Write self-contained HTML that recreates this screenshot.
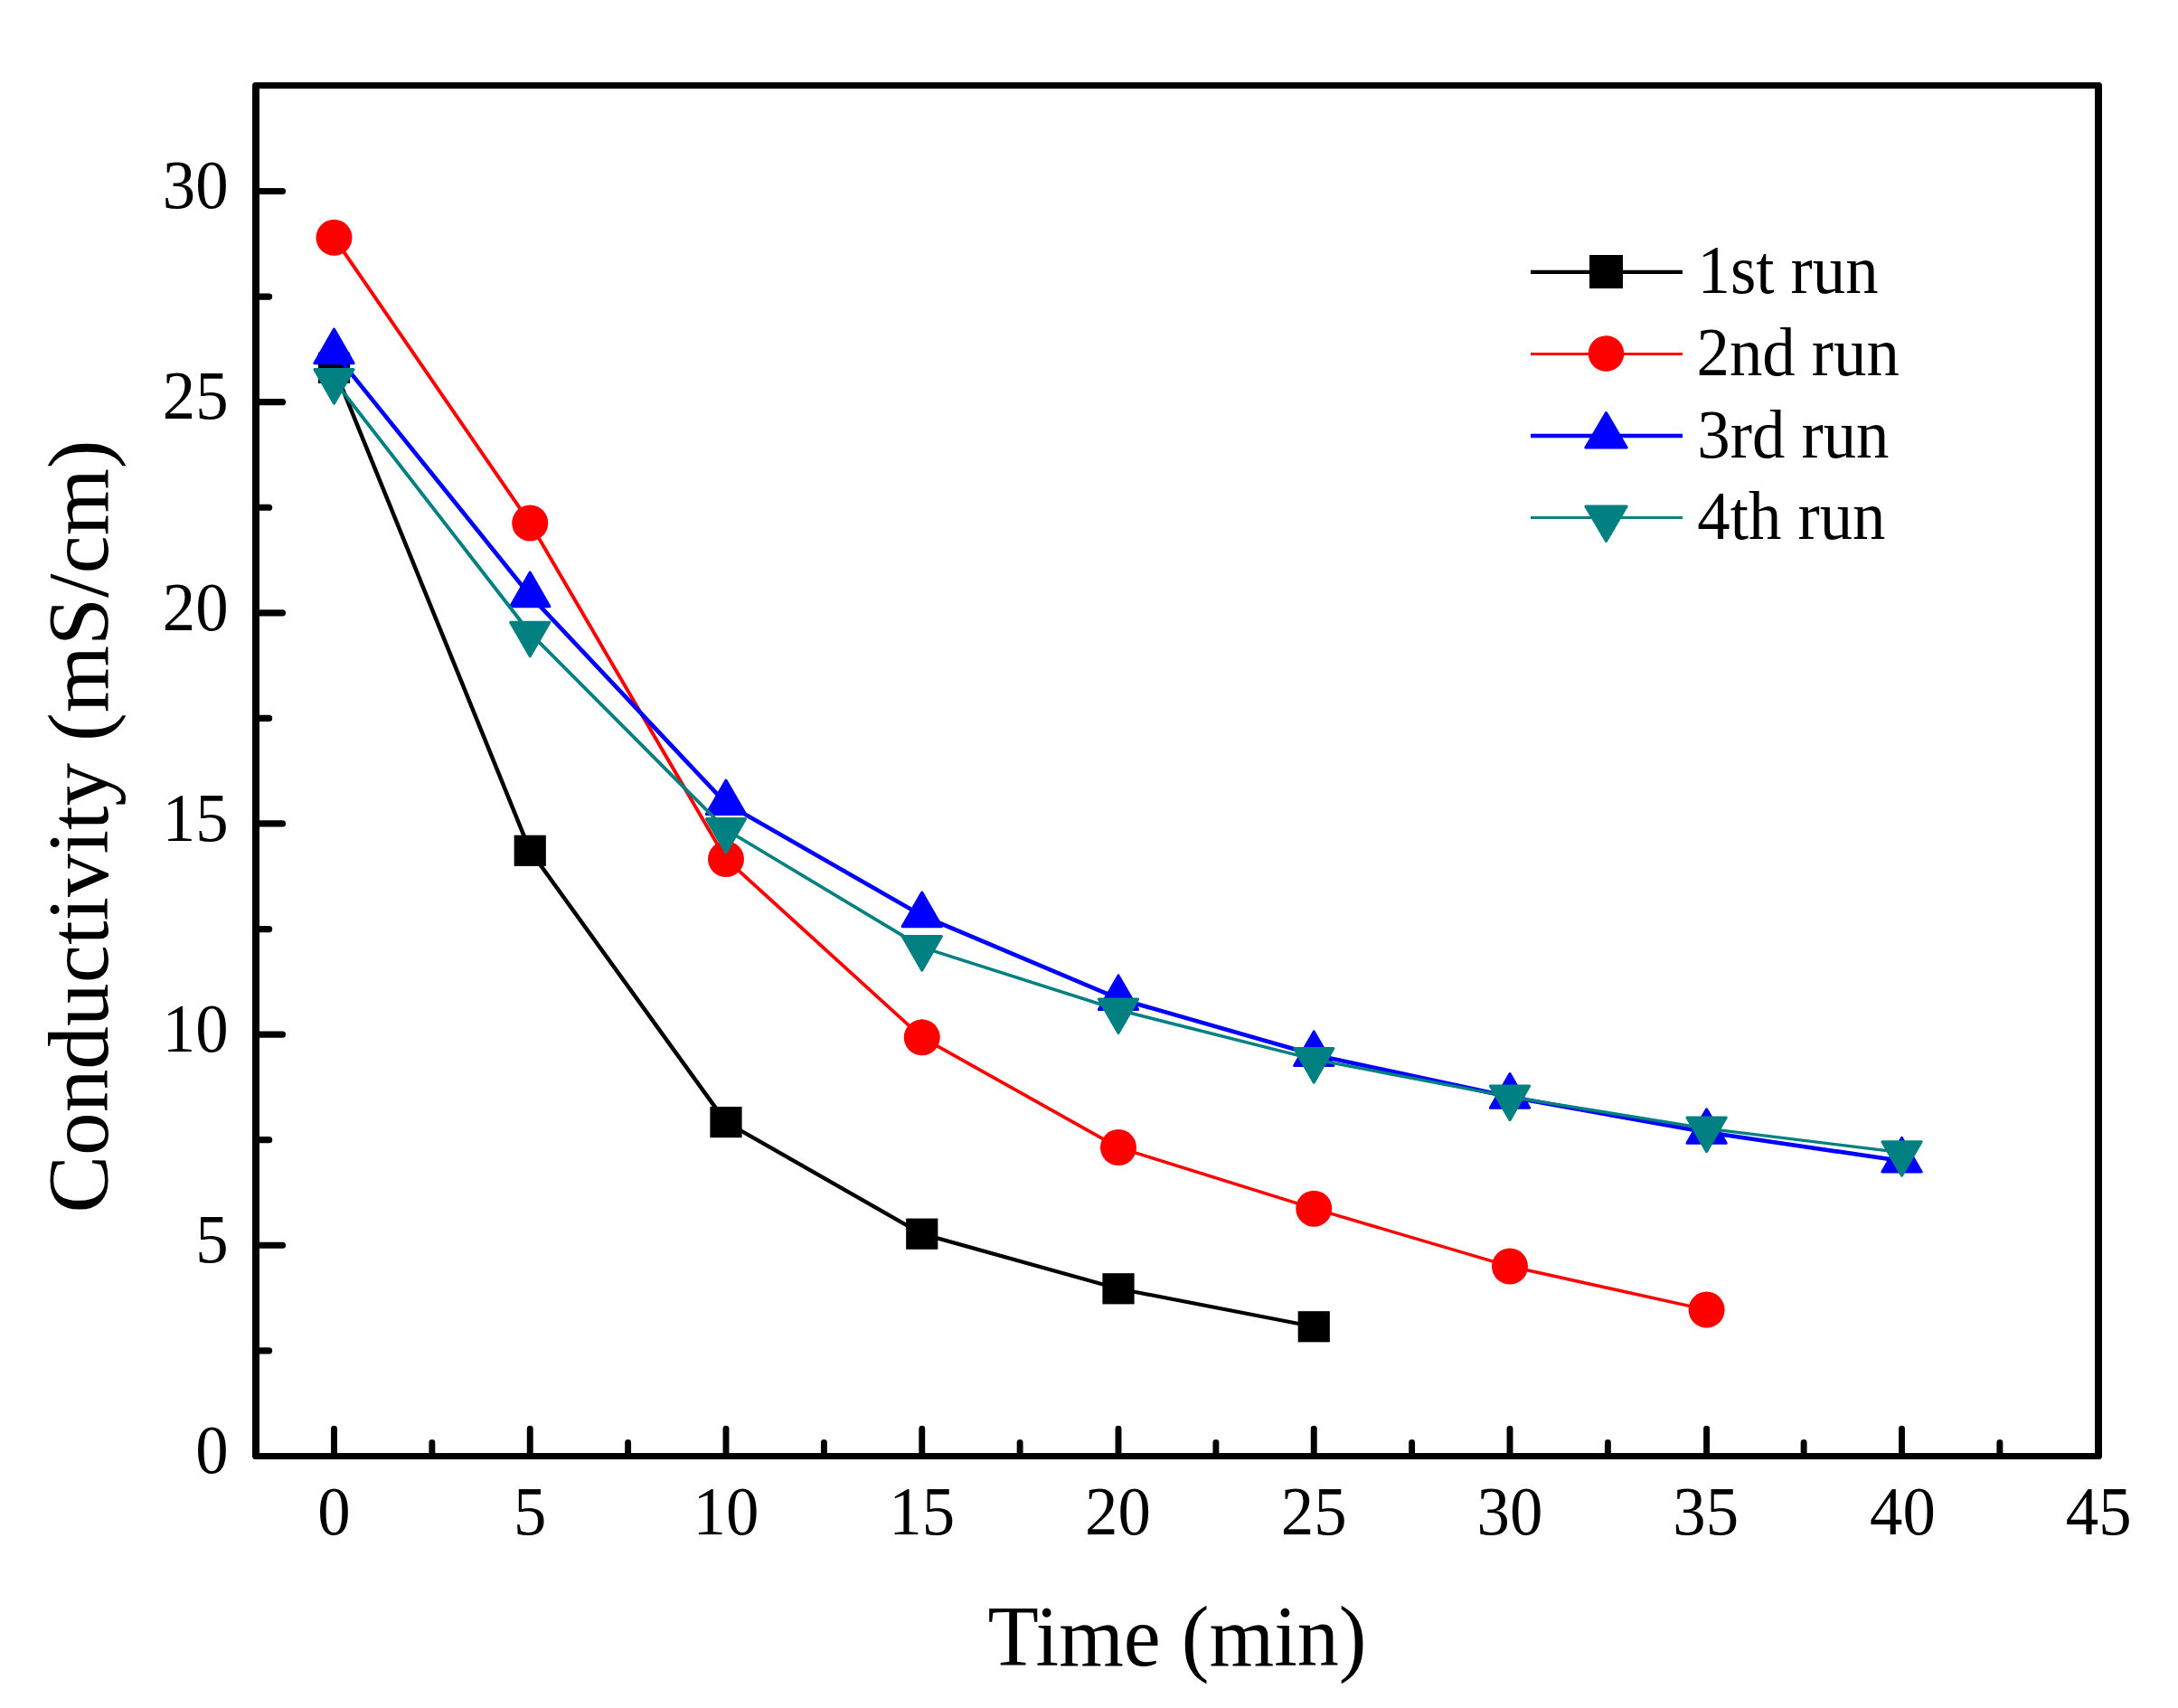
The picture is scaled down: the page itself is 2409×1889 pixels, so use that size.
<!DOCTYPE html>
<html lang="en"><head><meta charset="utf-8"><title>Conductivity vs Time</title>
<style>html,body{margin:0;padding:0;background:#fff}body{width:2409px;height:1889px;overflow:hidden}svg{display:block}text{font-family:"Liberation Serif","Times New Roman",Times,serif;fill:#000}</style>
</head><body>
<svg width="2409" height="1889" viewBox="0 0 2409 1889">
<rect width="2409" height="1889" fill="#ffffff"/>
<g id="black">
<g stroke="#000000" stroke-linecap="round">
<line x1="369.50" y1="406.88" x2="586.25" y2="940.79" stroke-width="4.50"/>
<line x1="586.25" y1="940.79" x2="803.00" y2="1241.09" stroke-width="4.50"/>
<line x1="803.00" y1="1241.09" x2="1019.75" y2="1364.66" stroke-width="4.37"/>
<line x1="1019.75" y1="1364.66" x2="1237.00" y2="1425.28" stroke-width="4.27"/>
<line x1="1237.00" y1="1425.28" x2="1453.25" y2="1467.25" stroke-width="4.23"/>
</g>
<rect x="351.90" y="389.78" width="35.2" height="34.2" fill="#000000"/>
<rect x="568.65" y="923.69" width="35.2" height="34.2" fill="#000000"/>
<rect x="785.40" y="1223.99" width="35.2" height="34.2" fill="#000000"/>
<rect x="1002.15" y="1347.56" width="35.2" height="34.2" fill="#000000"/>
<rect x="1219.40" y="1408.18" width="35.2" height="34.2" fill="#000000"/>
<rect x="1435.65" y="1450.15" width="35.2" height="34.2" fill="#000000"/>
</g>
<g id="red">
<g stroke="#FF0000" stroke-linecap="round">
<line x1="369.50" y1="262.79" x2="586.25" y2="578.48" stroke-width="3.95"/>
<line x1="586.25" y1="578.48" x2="803.00" y2="950.12" stroke-width="3.95"/>
<line x1="803.00" y1="950.12" x2="1019.75" y2="1147.36" stroke-width="3.85"/>
<line x1="1019.75" y1="1147.36" x2="1237.00" y2="1269.07" stroke-width="3.70"/>
<line x1="1237.00" y1="1269.07" x2="1453.25" y2="1336.68" stroke-width="3.54"/>
<line x1="1453.25" y1="1336.68" x2="1670.00" y2="1400.57" stroke-width="3.53"/>
<line x1="1670.00" y1="1400.57" x2="1887.60" y2="1448.59" stroke-width="3.48"/>
</g>
<circle cx="369.50" cy="262.79" r="20.0" fill="#FF0000"/>
<circle cx="586.25" cy="578.48" r="20.0" fill="#FF0000"/>
<circle cx="803.00" cy="950.12" r="20.0" fill="#FF0000"/>
<circle cx="1019.75" cy="1147.36" r="20.0" fill="#FF0000"/>
<circle cx="1237.00" cy="1269.07" r="20.0" fill="#FF0000"/>
<circle cx="1453.25" cy="1336.68" r="20.0" fill="#FF0000"/>
<circle cx="1670.00" cy="1400.57" r="20.0" fill="#FF0000"/>
<circle cx="1887.60" cy="1448.59" r="20.0" fill="#FF0000"/>
</g>
<g id="blue">
<g stroke="#0000FF" stroke-linecap="round">
<line x1="369.50" y1="389.63" x2="586.25" y2="658.68" stroke-width="4.70"/>
<line x1="586.25" y1="658.68" x2="803.00" y2="888.57" stroke-width="4.70"/>
<line x1="803.00" y1="888.57" x2="1019.75" y2="1012.60" stroke-width="4.70"/>
<line x1="1019.75" y1="1012.60" x2="1237.00" y2="1104.46" stroke-width="4.70"/>
<line x1="1237.00" y1="1104.46" x2="1453.25" y2="1166.48" stroke-width="4.70"/>
<line x1="1453.25" y1="1166.48" x2="1670.00" y2="1213.11" stroke-width="4.70"/>
<line x1="1670.00" y1="1213.11" x2="1887.60" y2="1252.28" stroke-width="4.70"/>
<line x1="1887.60" y1="1252.28" x2="2103.50" y2="1283.99" stroke-width="4.70"/>
</g>
<polygon points="369.50,364.06 391.15,401.66 347.85,401.66" fill="#0000FF" stroke="#0000FF" stroke-width="3.0" stroke-linejoin="round"/>
<polygon points="586.25,633.12 607.90,670.72 564.60,670.72" fill="#0000FF" stroke="#0000FF" stroke-width="3.0" stroke-linejoin="round"/>
<polygon points="803.00,863.00 824.65,900.60 781.35,900.60" fill="#0000FF" stroke="#0000FF" stroke-width="3.0" stroke-linejoin="round"/>
<polygon points="1019.75,987.04 1041.40,1024.64 998.10,1024.64" fill="#0000FF" stroke="#0000FF" stroke-width="3.0" stroke-linejoin="round"/>
<polygon points="1237.00,1078.90 1258.65,1116.50 1215.35,1116.50" fill="#0000FF" stroke="#0000FF" stroke-width="3.0" stroke-linejoin="round"/>
<polygon points="1453.25,1140.92 1474.90,1178.52 1431.60,1178.52" fill="#0000FF" stroke="#0000FF" stroke-width="3.0" stroke-linejoin="round"/>
<polygon points="1670.00,1187.55 1691.65,1225.15 1648.35,1225.15" fill="#0000FF" stroke="#0000FF" stroke-width="3.0" stroke-linejoin="round"/>
<polygon points="1887.60,1226.71 1909.25,1264.31 1865.95,1264.31" fill="#0000FF" stroke="#0000FF" stroke-width="3.0" stroke-linejoin="round"/>
<polygon points="2103.50,1258.42 2125.15,1296.02 2081.85,1296.02" fill="#0000FF" stroke="#0000FF" stroke-width="3.0" stroke-linejoin="round"/>
</g>
<g id="teal">
<g stroke="#008080" stroke-linecap="round">
<line x1="369.50" y1="420.64" x2="586.25" y2="700.18" stroke-width="3.94"/>
<line x1="586.25" y1="700.18" x2="803.00" y2="917.48" stroke-width="3.88"/>
<line x1="803.00" y1="917.48" x2="1019.75" y2="1047.58" stroke-width="3.72"/>
<line x1="1019.75" y1="1047.58" x2="1237.00" y2="1117.05" stroke-width="3.55"/>
<line x1="1237.00" y1="1117.05" x2="1453.25" y2="1171.61" stroke-width="3.50"/>
<line x1="1453.25" y1="1171.61" x2="1670.00" y2="1213.11" stroke-width="3.45"/>
<line x1="1670.00" y1="1213.11" x2="1887.60" y2="1248.08" stroke-width="3.43"/>
<line x1="1887.60" y1="1248.08" x2="2103.50" y2="1274.66" stroke-width="3.40"/>
</g>
<polygon points="369.50,446.20 391.15,408.60 347.85,408.60" fill="#008080" stroke="#008080" stroke-width="3.0" stroke-linejoin="round"/>
<polygon points="586.25,725.75 607.90,688.15 564.60,688.15" fill="#008080" stroke="#008080" stroke-width="3.0" stroke-linejoin="round"/>
<polygon points="803.00,943.04 824.65,905.44 781.35,905.44" fill="#008080" stroke="#008080" stroke-width="3.0" stroke-linejoin="round"/>
<polygon points="1019.75,1073.14 1041.40,1035.54 998.10,1035.54" fill="#008080" stroke="#008080" stroke-width="3.0" stroke-linejoin="round"/>
<polygon points="1237.00,1142.62 1258.65,1105.02 1215.35,1105.02" fill="#008080" stroke="#008080" stroke-width="3.0" stroke-linejoin="round"/>
<polygon points="1453.25,1197.18 1474.90,1159.58 1431.60,1159.58" fill="#008080" stroke="#008080" stroke-width="3.0" stroke-linejoin="round"/>
<polygon points="1670.00,1238.68 1691.65,1201.08 1648.35,1201.08" fill="#008080" stroke="#008080" stroke-width="3.0" stroke-linejoin="round"/>
<polygon points="1887.60,1273.65 1909.25,1236.05 1865.95,1236.05" fill="#008080" stroke="#008080" stroke-width="3.0" stroke-linejoin="round"/>
<polygon points="2103.50,1300.23 2125.15,1262.63 2081.85,1262.63" fill="#008080" stroke="#008080" stroke-width="3.0" stroke-linejoin="round"/>
</g>
<g stroke="#000" fill="none" stroke-linecap="round" stroke-linejoin="round">
<rect x="283.0" y="94.5" width="2038.0" height="1516.0" stroke-width="7"/>
<line x1="283.0" y1="95.0" x2="283.0" y2="1610.0" stroke-width="8"/>
<line x1="2321.0" y1="95.0" x2="2321.0" y2="1610.0" stroke-width="8"/>
<g stroke-width="6.9">
<line x1="369.50" y1="1608.5" x2="369.50" y2="1580.3"/>
<line x1="477.88" y1="1608.5" x2="477.88" y2="1595.5"/>
<line x1="586.25" y1="1608.5" x2="586.25" y2="1580.3"/>
<line x1="694.62" y1="1608.5" x2="694.62" y2="1595.5"/>
<line x1="803.00" y1="1608.5" x2="803.00" y2="1580.3"/>
<line x1="911.38" y1="1608.5" x2="911.38" y2="1595.5"/>
<line x1="1019.75" y1="1608.5" x2="1019.75" y2="1580.3"/>
<line x1="1128.12" y1="1608.5" x2="1128.12" y2="1595.5"/>
<line x1="1237.00" y1="1608.5" x2="1237.00" y2="1580.3"/>
<line x1="1344.88" y1="1608.5" x2="1344.88" y2="1595.5"/>
<line x1="1453.25" y1="1608.5" x2="1453.25" y2="1580.3"/>
<line x1="1561.62" y1="1608.5" x2="1561.62" y2="1595.5"/>
<line x1="1670.00" y1="1608.5" x2="1670.00" y2="1580.3"/>
<line x1="1778.38" y1="1608.5" x2="1778.38" y2="1595.5"/>
<line x1="1887.60" y1="1608.5" x2="1887.60" y2="1580.3"/>
<line x1="1995.12" y1="1608.5" x2="1995.12" y2="1595.5"/>
<line x1="2103.50" y1="1608.5" x2="2103.50" y2="1580.3"/>
<line x1="2211.88" y1="1608.5" x2="2211.88" y2="1595.5"/>
</g>
<g stroke-width="7.2">
<line x1="285.0" y1="1493.83" x2="297.6" y2="1493.83"/>
<line x1="285.0" y1="1377.25" x2="312.5" y2="1377.25"/>
<line x1="285.0" y1="1260.68" x2="297.6" y2="1260.68"/>
<line x1="285.0" y1="1144.10" x2="312.5" y2="1144.10"/>
<line x1="285.0" y1="1027.53" x2="297.6" y2="1027.53"/>
<line x1="285.0" y1="910.95" x2="312.5" y2="910.95"/>
<line x1="285.0" y1="794.38" x2="297.6" y2="794.38"/>
<line x1="285.0" y1="677.80" x2="312.5" y2="677.80"/>
<line x1="285.0" y1="561.23" x2="297.6" y2="561.23"/>
<line x1="285.0" y1="444.65" x2="312.5" y2="444.65"/>
<line x1="285.0" y1="328.08" x2="297.6" y2="328.08"/>
<line x1="285.0" y1="211.50" x2="312.5" y2="211.50"/>
</g></g>
<text transform="translate(369.50,1697.0) scale(0.945,1)" font-size="77" text-anchor="middle">0</text>
<text transform="translate(586.25,1697.0) scale(0.945,1)" font-size="77" text-anchor="middle">5</text>
<text transform="translate(803.00,1697.0) scale(0.945,1)" font-size="77" text-anchor="middle">10</text>
<text transform="translate(1019.75,1697.0) scale(0.945,1)" font-size="77" text-anchor="middle">15</text>
<text transform="translate(1236.50,1697.0) scale(0.945,1)" font-size="77" text-anchor="middle">20</text>
<text transform="translate(1453.25,1697.0) scale(0.945,1)" font-size="77" text-anchor="middle">25</text>
<text transform="translate(1670.00,1697.0) scale(0.945,1)" font-size="77" text-anchor="middle">30</text>
<text transform="translate(1886.75,1697.0) scale(0.945,1)" font-size="77" text-anchor="middle">35</text>
<text transform="translate(2104.50,1697.0) scale(0.945,1)" font-size="77" text-anchor="middle">40</text>
<text transform="translate(2321.25,1697.0) scale(0.945,1)" font-size="77" text-anchor="middle">45</text>
<text transform="translate(252.6,1629.20) scale(0.945,1)" font-size="77" text-anchor="end">0</text>
<text transform="translate(252.6,1396.05) scale(0.945,1)" font-size="77" text-anchor="end">5</text>
<text transform="translate(252.6,1162.90) scale(0.945,1)" font-size="77" text-anchor="end">10</text>
<text transform="translate(252.6,929.75) scale(0.945,1)" font-size="77" text-anchor="end">15</text>
<text transform="translate(252.6,696.60) scale(0.945,1)" font-size="77" text-anchor="end">20</text>
<text transform="translate(252.6,463.45) scale(0.945,1)" font-size="77" text-anchor="end">25</text>
<text transform="translate(252.6,230.30) scale(0.945,1)" font-size="77" text-anchor="end">30</text>
<text transform="translate(1302,1841.8) scale(0.96,1)" font-size="96" text-anchor="middle">Time (min)</text>
<text transform="translate(119.3,914) rotate(-90) scale(0.993,1)" font-size="96" text-anchor="middle">Conductivity (mS/cm)</text>
<line x1="1693.0" y1="300.8" x2="1861.0" y2="300.8" stroke="#000000" stroke-width="4.2"/>
<rect x="1758.00" y="282.00" width="37.0" height="37.0" fill="#000000"/>
<text transform="translate(1877.5,324.0) scale(0.945,1)" font-size="77">1st run</text>
<line x1="1693.0" y1="391.5" x2="1861.0" y2="391.5" stroke="#FF0000" stroke-width="3.0"/>
<circle cx="1776.50" cy="391.00" r="19.8" fill="#FF0000"/>
<text transform="translate(1876.5,415.0) scale(0.945,1)" font-size="77">2nd run</text>
<line x1="1693.0" y1="482.0" x2="1861.0" y2="482.0" stroke="#0000FF" stroke-width="4.7"/>
<polygon points="1776.50,456.50 1799.15,494.90 1753.85,494.90" fill="#0000FF" stroke="#0000FF" stroke-width="3.0" stroke-linejoin="round"/>
<text transform="translate(1877.3,506.0) scale(0.945,1)" font-size="77">3rd run</text>
<line x1="1693.0" y1="572.5" x2="1861.0" y2="572.5" stroke="#008080" stroke-width="3.1"/>
<polygon points="1776.50,598.50 1799.15,560.10 1753.85,560.10" fill="#008080" stroke="#008080" stroke-width="3.0" stroke-linejoin="round"/>
<text transform="translate(1877.3,595.8) scale(0.945,1)" font-size="77">4th run</text>
</svg>
</body></html>
